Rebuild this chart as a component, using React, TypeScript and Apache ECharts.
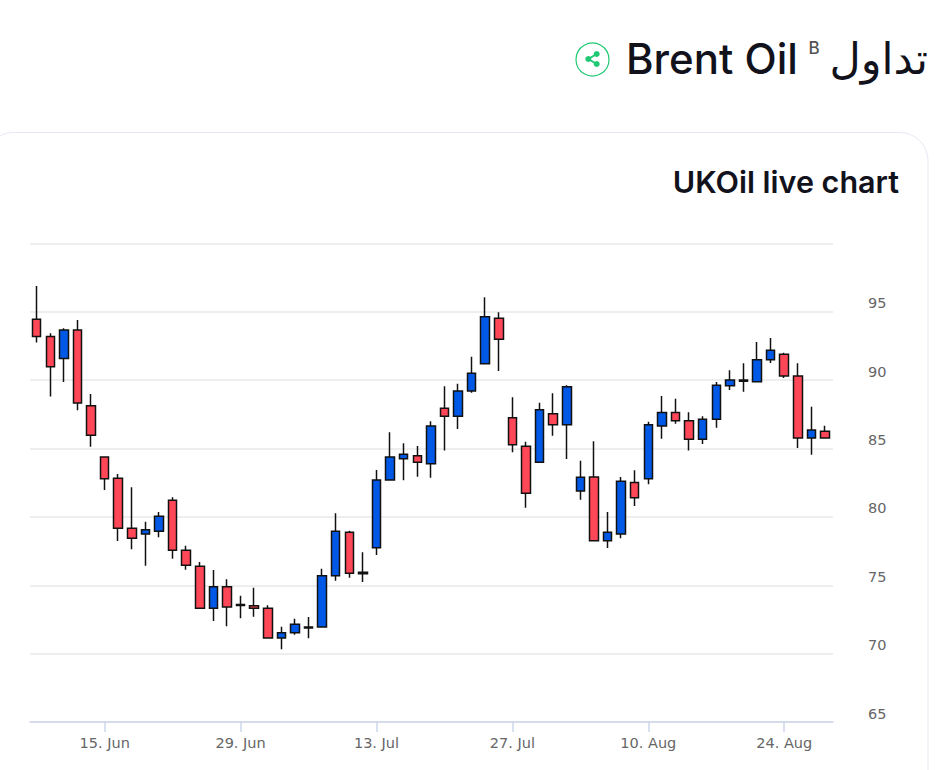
import React, { useEffect, useRef } from "react";
import * as echarts from "echarts";

const dates = [
  "8. Jun","9. Jun","10. Jun","11. Jun","12. Jun","15. Jun","16. Jun","17. Jun","18. Jun","19. Jun",
  "22. Jun","23. Jun","24. Jun","25. Jun","26. Jun","29. Jun","30. Jun","1. Jul","2. Jul","3. Jul",
  "6. Jul","7. Jul","8. Jul","9. Jul","10. Jul","13. Jul","14. Jul","15. Jul","16. Jul","17. Jul",
  "20. Jul","21. Jul","22. Jul","23. Jul","24. Jul","27. Jul","28. Jul","29. Jul","30. Jul","31. Jul",
  "3. Aug","4. Aug","5. Aug","6. Aug","7. Aug","10. Aug","11. Aug","12. Aug","13. Aug","14. Aug",
  "17. Aug","18. Aug","19. Aug","20. Aug","21. Aug","24. Aug","25. Aug","26. Aug","27. Aug",
];
const opens = [
  94.46,93.19,91.58,93.67,88.14,84.38,82.83,79.17,78.75,78.95,
  81.22,77.56,76.39,73.32,74.9,73.52,73.51,73.32,71.14,71.53,
  71.88,71.95,75.7,78.88,75.85,77.75,82.7,84.26,84.48,83.89,
  87.95,87.36,89.21,91.21,94.53,87.26,85.17,84.0,87.55,86.75,
  81.9,82.92,78.26,78.75,82.51,82.8,86.65,87.63,87.04,85.68,
  87.14,89.6,89.92,89.89,91.5,91.9,90.31,85.77,86.26,
];
const closes = [
  93.19,90.99,93.67,88.33,85.97,82.8,79.17,78.44,79.07,80.05,
  77.56,76.46,73.32,74.9,73.41,73.6,73.32,71.14,71.53,72.15,
  71.95,75.7,78.95,75.88,75.95,82.7,84.38,84.58,84.0,86.65,
  87.36,89.21,90.51,94.65,92.99,85.28,81.73,87.84,86.75,89.53,
  82.9,78.26,78.88,82.61,81.41,86.75,87.63,87.04,85.68,87.14,
  89.63,90.02,90.02,91.5,92.19,90.31,85.77,86.36,85.77,
];
const lows = [
  92.75,88.8,89.87,87.8,85.14,81.97,78.24,77.63,76.43,78.51,
  76.95,76.14,73.3,72.39,72.0,72.59,72.7,71.14,70.32,71.39,
  71.12,71.95,75.34,75.56,75.24,77.22,82.7,82.68,82.94,82.87,
  84.85,86.43,89.09,91.21,90.68,84.73,80.68,84.0,85.94,84.24,
  81.26,78.26,77.73,78.44,80.8,82.39,85.72,86.82,84.85,85.34,
  86.53,89.29,89.16,89.89,91.26,90.16,85.04,84.55,85.77,
];
const highs = [
  96.89,93.43,93.8,94.41,88.99,84.38,83.14,82.17,79.65,80.36,
  81.44,77.9,76.7,76.12,75.44,74.24,74.82,73.54,71.97,72.56,
  72.68,76.21,80.27,78.99,77.41,83.43,86.19,85.39,85.19,87.0,
  89.56,89.75,91.72,96.07,94.97,88.75,85.5,88.36,89.04,89.63,
  84.11,85.53,80.36,82.92,83.41,86.97,88.85,88.65,87.65,87.36,
  89.87,90.73,91.24,92.8,93.09,92.01,91.24,88.06,86.67,
];
const hiddenTicks = [100];
const headerTitle = "Brent Oil";
const headerNote = "B";
const headerArabic = "تداول";
const cardTitle = "UKOil live chart";

export default function App() {
  const ref = useRef<HTMLDivElement>(null);
  useEffect(() => {
    const chart = echarts.init(ref.current!, undefined, { renderer: "svg" });
    const green = "#1fc973";
    const ink = "#12121c";
    const isLabelled = (i: number) => i % 10 === 5;
    chart.setOption({
      animation: false,
      backgroundColor: "#ffffff",
      graphic: [
        { type: "rect", z: -1, shape: { x: -15, y: 132.5, width: 943, height: 720, r: 28 },
          style: { fill: "#ffffff", stroke: "#e6e9f2", lineWidth: 1 } },
        { type: "circle", shape: { cx: 592.5, cy: 59.5, r: 16.5 }, style: { fill: "#fff", stroke: green, lineWidth: 1.2 } },
        { type: "polyline", shape: { points: [[596.7, 54], [588.3, 59], [596.7, 64]] }, style: { fill: "none", stroke: green, lineWidth: 2 } },
        { type: "circle", shape: { cx: 596.7, cy: 54, r: 3 }, style: { fill: green } },
        { type: "circle", shape: { cx: 588.3, cy: 59, r: 3 }, style: { fill: green } },
        { type: "circle", shape: { cx: 596.7, cy: 64, r: 3 }, style: { fill: green } },
        { type: "text", x: 626, y: 58, style: { text: headerTitle, fill: ink, font: '500 42px Inter', verticalAlign: "middle", align: "left" } },
        { type: "text", x: 814, y: 48, style: { text: headerNote, fill: "#555555", font: '500 17px Inter', verticalAlign: "middle", align: "center" } },
        { type: "text", x: 928, y: 59, style: { text: headerArabic, fill: ink, font: '43px "DejaVu Sans"', verticalAlign: "middle", align: "right" } },
        { type: "text", x: 899, y: 181.5, style: { text: cardTitle, fill: ink, font: '600 30.5px Inter', verticalAlign: "middle", align: "right" } },
      ],
      grid: [
        { left: 30, top: 243.5, width: 803, height: 478.5 },
        { left: 29.9, top: 243.5, width: 801.9, height: 478.5 },
      ],
      xAxis: [
        {
          type: "category",
          gridIndex: 0,
          data: dates,
          axisLine: { lineStyle: { color: "#ccd6eb", width: 1.5 } },
          axisTick: { show: false },
          axisLabel: { show: false },
          splitLine: { show: false },
        },
        {
          type: "category",
          gridIndex: 1,
          data: dates,
          boundaryGap: true,
          axisLine: { show: false },
          axisTick: { show: true, alignWithLabel: true, length: 10, interval: (i: number) => isLabelled(i), lineStyle: { color: "#ccd6eb", width: 1.5 } },
          axisLabel: { interval: (i: number) => isLabelled(i), color: "#666666", fontFamily: "DejaVu Sans", fontSize: 14.5, margin: 13 },
          splitLine: { show: false },
        },
      ],
      yAxis: [
        {
          type: "value",
          gridIndex: 0,
          position: "right",
          min: 65,
          max: 100,
          interval: 5,
          axisLine: { show: false },
          axisTick: { show: false },
          splitLine: { lineStyle: { color: "#e8e8e8", width: 1.5 } },
          axisLabel: {
            margin: 35,
            align: "left",
            verticalAlign: "bottom",
            lineHeight: 17,
            color: "#666666",
            fontFamily: "DejaVu Sans",
            fontSize: 14.5,
            showMinLabel: true,
            showMaxLabel: true,
            formatter: (v: number) => (hiddenTicks.includes(v) ? "" : String(v)),
          },
        },
        {
          type: "value",
          gridIndex: 1,
          position: "right",
          min: 65,
          max: 100,
          interval: 5,
          axisLine: { show: false },
          axisTick: { show: false },
          axisLabel: { show: false },
          splitLine: { show: false },
        },
      ],
      series: [
        {
          type: "candlestick",
          xAxisIndex: 1,
          yAxisIndex: 1,
          barWidth: 9,
          data: dates.map((_, i) => [opens[i], closes[i], lows[i], highs[i]]),
          itemStyle: {
            color: "#0058e6",
            color0: "#ff4757",
            borderColor: "#111111",
            borderColor0: "#111111",
            borderWidth: 1.5,
          },
        },
      ],
    });
    return () => chart.dispose();
  }, []);
  return <div ref={ref} style={{ position: "absolute", left: 0, top: 0, width: 938, height: 770 }} />;
}
